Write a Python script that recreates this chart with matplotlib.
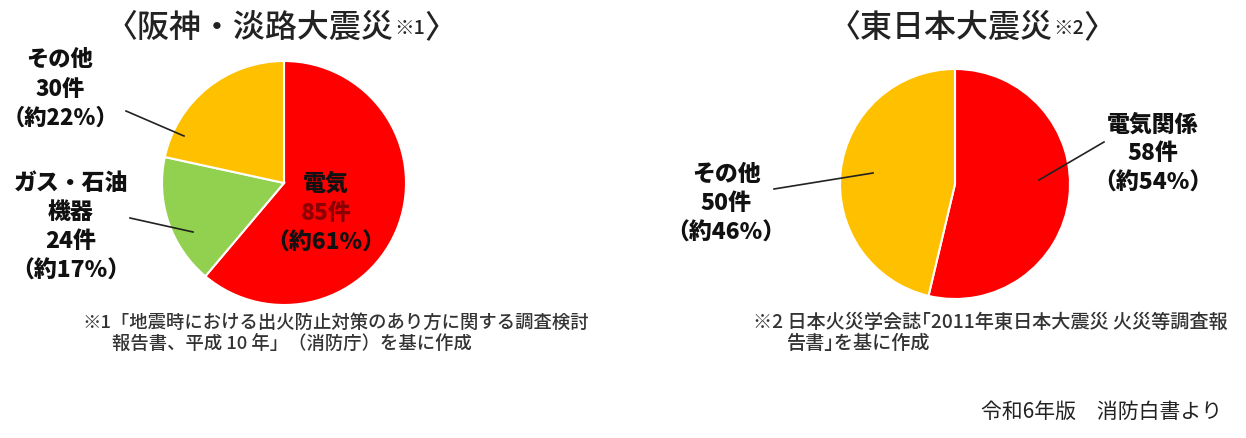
import matplotlib
matplotlib.use("Agg")
import matplotlib.pyplot as plt

plt.rcParams['font.family'] = ['Noto Sans CJK JP', 'DejaVu Sans']

# 阪神・淡路大震災
hanshin_labels = ['電気', 'ガス・石油\n機器', 'その他']
hanshin_counts = [85, 24, 30]
# 東日本大震災
tohoku_labels = ['電気関係', 'その他']
tohoku_counts = [58, 50]

RED = '#FF0000'
GREEN = '#92D050'
YELLOW = '#FFC000'

W, H = 1246, 438


def py(y):
    # 画像の上からのピクセル位置 -> データ座標
    return H - y


def label_text(name, n, total):
    pct = round(n / total * 100)
    return f'{name}\n{n}件\n（約{pct}%）'


fig = plt.figure(figsize=(W / 100, H / 100), dpi=100)
ax = fig.add_axes([0, 0, 1, 1])

wedge_kw = dict(edgecolor='white', linewidth=1.5)
ax.pie(hanshin_counts, colors=[RED, GREEN, YELLOW], startangle=90,
       counterclock=False, center=(284, py(183)), radius=122,
       wedgeprops=wedge_kw)
ax.pie(tohoku_counts, colors=[RED, YELLOW], startangle=90,
       counterclock=False, center=(955, py(184)), radius=115,
       wedgeprops=wedge_kw)

ax.set_xlim(0, W)
ax.set_ylim(0, H)
ax.set_aspect('equal')
ax.set_axis_off()

# タイトル
title_kw = dict(va='center', ha='left', color='#222222', fontweight='medium')
for x0, main, note in [(106, '〈阪神・淡路大震災', '※1'), (829, '〈東日本大震災', '※2')]:
    t = ax.text(x0, py(28), main, fontsize=23, **title_kw)
    s = ax.annotate(note, xycoords=t, xy=(1, 0.5), fontsize=14, **title_kw)
    ax.annotate('〉', xycoords=s, xy=(1, 0.5), fontsize=23, **title_kw)

lab_kw = dict(ha='center', va='center', fontsize=16.5, fontweight='heavy',
              linespacing=1.35, color='#111111')

tot1 = sum(hanshin_counts)
tot2 = sum(tohoku_counts)

# 電気 (円の中)
ax.text(326, py(184), hanshin_labels[0], **lab_kw)
ax.text(326, py(214), f'{hanshin_counts[0]}件', **{**lab_kw, 'color': '#8B0000'})
ax.text(326, py(243), f'（約{round(hanshin_counts[0] / tot1 * 100)}%）', **lab_kw)

ax.text(60, py(89), label_text(hanshin_labels[2], hanshin_counts[2], tot1),
        **{**lab_kw, 'fontsize': 16})
ax.text(71, py(227), label_text(hanshin_labels[1], hanshin_counts[1], tot1), **lab_kw)

ax.text(1153, py(154), label_text(tohoku_labels[0], tohoku_counts[0], tot2), **lab_kw)
ax.text(726, py(204), label_text(tohoku_labels[1], tohoku_counts[1], tot2), **lab_kw)

# 引き出し線
leaders = [((126, 111), (184, 136)), ((130, 218), (193, 232)),
           ((1104, 142), (1039, 180)), ((774, 189), (873, 173))]
for (x0, y0), (x1, y1) in leaders:
    ax.plot([x0, x1], [py(y0), py(y1)], color='#222222', linewidth=1.2)

# 注釈
note_kw = dict(ha='left', va='center', fontsize=13.2, color='#333333', fontweight='medium')
ax.text(82, py(323), '※1「地震時における出火防止対策のあり方に関する調査検討', **note_kw)
ax.text(112, py(344), '報告書、平成 10 年」（消防庁）を基に作成', **note_kw)
note2_kw = {**note_kw, 'fontsize': 13.8}
ax.text(753, py(322), '※2 日本火災学会誌｢2011年東日本大震災 火災等調査報', **note2_kw)
ax.text(787, py(343), '告書｣を基に作成', **note2_kw)

ax.text(1222, py(412), '令和6年版　消防白書より', ha='right', va='center',
        fontsize=15, color='#222222')

fig.savefig('out.png', dpi=100)
